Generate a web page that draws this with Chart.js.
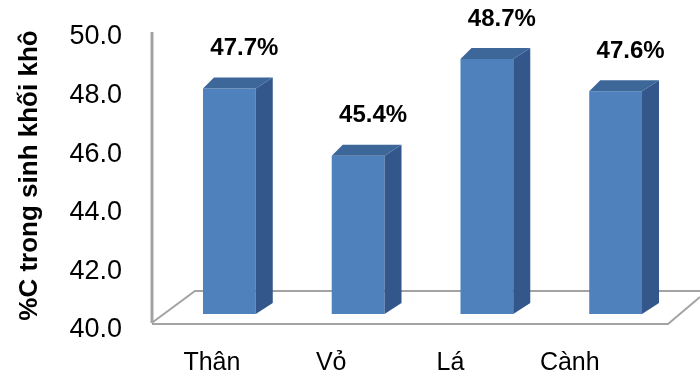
<!DOCTYPE html>
<html>
<head>
<meta charset="utf-8">
<script src="https://cdn.jsdelivr.net/npm/chart.js@4.4.0/dist/chart.umd.min.js"></script>
<style>
  html, body { margin: 0; padding: 0; background: #fff; }
  #wrap { width: 700px; height: 376px; }
</style>
</head>
<body>
<div id="wrap"><canvas id="carbonChart" width="700" height="376"></canvas></div>
<script>
const categories = ['Thân', 'Vỏ', 'Lá', 'Cành'];
const carbonPct = [47.7, 45.4, 48.7, 47.6];
const yTicks = [40, 42, 44, 46, 48, 50];
const yTitle = '%C trong sinh khối khô';

// fake 3D: floor, back wall, bar sides/tops, labels
const depthX = 17;
const depthY = 11;

const bar3d = {
    id: 'bar3d',
    beforeDatasetsDraw(chart) {
        const ctx = chart.ctx;
        const area = chart.chartArea;
        const wallX = area.left - 13;
        const frontY = area.bottom + 10;
        const backY = area.bottom - 23;
        ctx.save();
        ctx.strokeStyle = '#a3a3a3';
        ctx.lineWidth = 3;
        ctx.beginPath();
        ctx.moveTo(wallX, chart.scales.y.getPixelForValue(50) + 11);
        ctx.lineTo(wallX, frontY - 1);
        ctx.stroke();
        ctx.lineWidth = 2;
        ctx.beginPath();
        ctx.moveTo(wallX, frontY);
        ctx.lineTo(area.right - 12, frontY);
        ctx.lineTo(chart.width, frontY - 27);
        ctx.moveTo(wallX + 1, frontY - 2);
        ctx.lineTo(wallX + 43, backY);
        ctx.lineTo(chart.width, backY);
        ctx.stroke();

        // axis title, centred on the back wall rather than the scale box
        ctx.fillStyle = '#000';
        ctx.font = 'bold 26px "Liberation Sans", Arial, sans-serif';
        ctx.textAlign = 'center';
        ctx.textBaseline = 'middle';
        ctx.translate(30, (area.bottom + chart.scales.y.getPixelForValue(50)) / 2 + 8);
        ctx.rotate(-Math.PI / 2);
        ctx.fillText(yTitle, 0, 0);
        ctx.restore();
    },
    afterDatasetsDraw(chart) {
        const ctx = chart.ctx;
        const area = chart.chartArea;
        const meta = chart.getDatasetMeta(0);
        ctx.save();
        meta.data.forEach((bar, i) => {
            const left = bar.x - bar.width / 2;
            const right = bar.x + bar.width / 2;
            const top = bar.y;
            const base = Math.min(bar.base, area.bottom);
            // side
            ctx.fillStyle = '#33578a';
            ctx.beginPath();
            ctx.moveTo(right, top);
            ctx.lineTo(right + depthX, top - depthY);
            ctx.lineTo(right + depthX, base - depthY);
            ctx.lineTo(right, base);
            ctx.closePath();
            ctx.fill();
            // top
            ctx.fillStyle = '#3d6699';
            ctx.beginPath();
            ctx.moveTo(left, top);
            ctx.lineTo(left + depthX - 6, top - depthY);
            ctx.lineTo(right + depthX, top - depthY);
            ctx.lineTo(right, top);
            ctx.closePath();
            ctx.fill();
            // value label
            ctx.fillStyle = '#000';
            ctx.font = 'bold 24px "Liberation Sans", Arial, sans-serif';
            ctx.textAlign = 'center';
            ctx.textBaseline = 'middle';
            ctx.fillText(carbonPct[i].toFixed(1) + '%', bar.x + 15, top - 40);
            // category label, squeezed for the front edge
            ctx.font = '25px "Liberation Sans", Arial, sans-serif';
            ctx.fillText(categories[i], bar.x * 0.9265 - 0.6, 363);
        });
        ctx.restore();
    }
};

new Chart(document.getElementById('carbonChart'), {
    type: 'bar',
    data: {
        labels: categories,
        datasets: [{
            data: carbonPct,
            backgroundColor: '#4f81bd',
            borderWidth: 0,
            barPercentage: 0.41,
            categoryPercentage: 1
        }]
    },
    options: {
        responsive: false,
        animation: false,
        events: [],
        layout: {
            padding: { top: 21, right: 20, bottom: 62, left: 0 }
        },
        plugins: {
            legend: { display: false },
            tooltip: { enabled: false }
        },
        scales: {
            x: {
                display: false
            },
            y: {
                min: 40,
                max: 50,
                afterFit: (scale) => {
                    scale.width = 165;
                    scale.paddingTop = 0;
                    scale.paddingBottom = 0;
                },
                afterBuildTicks: (scale) => {
                    scale.ticks = yTicks.map(v => ({ value: v }));
                },
                grid: { display: false, drawTicks: false },
                border: { display: false },
                ticks: {
                    padding: 43,
                    labelOffset: 16,
                    color: '#000',
                    font: { family: '"Liberation Sans", Arial, sans-serif', size: 27 },
                    callback: (value) => Number(value).toFixed(1)
                }
            }
        }
    },
    plugins: [bar3d]
});
</script>
</body>
</html>
